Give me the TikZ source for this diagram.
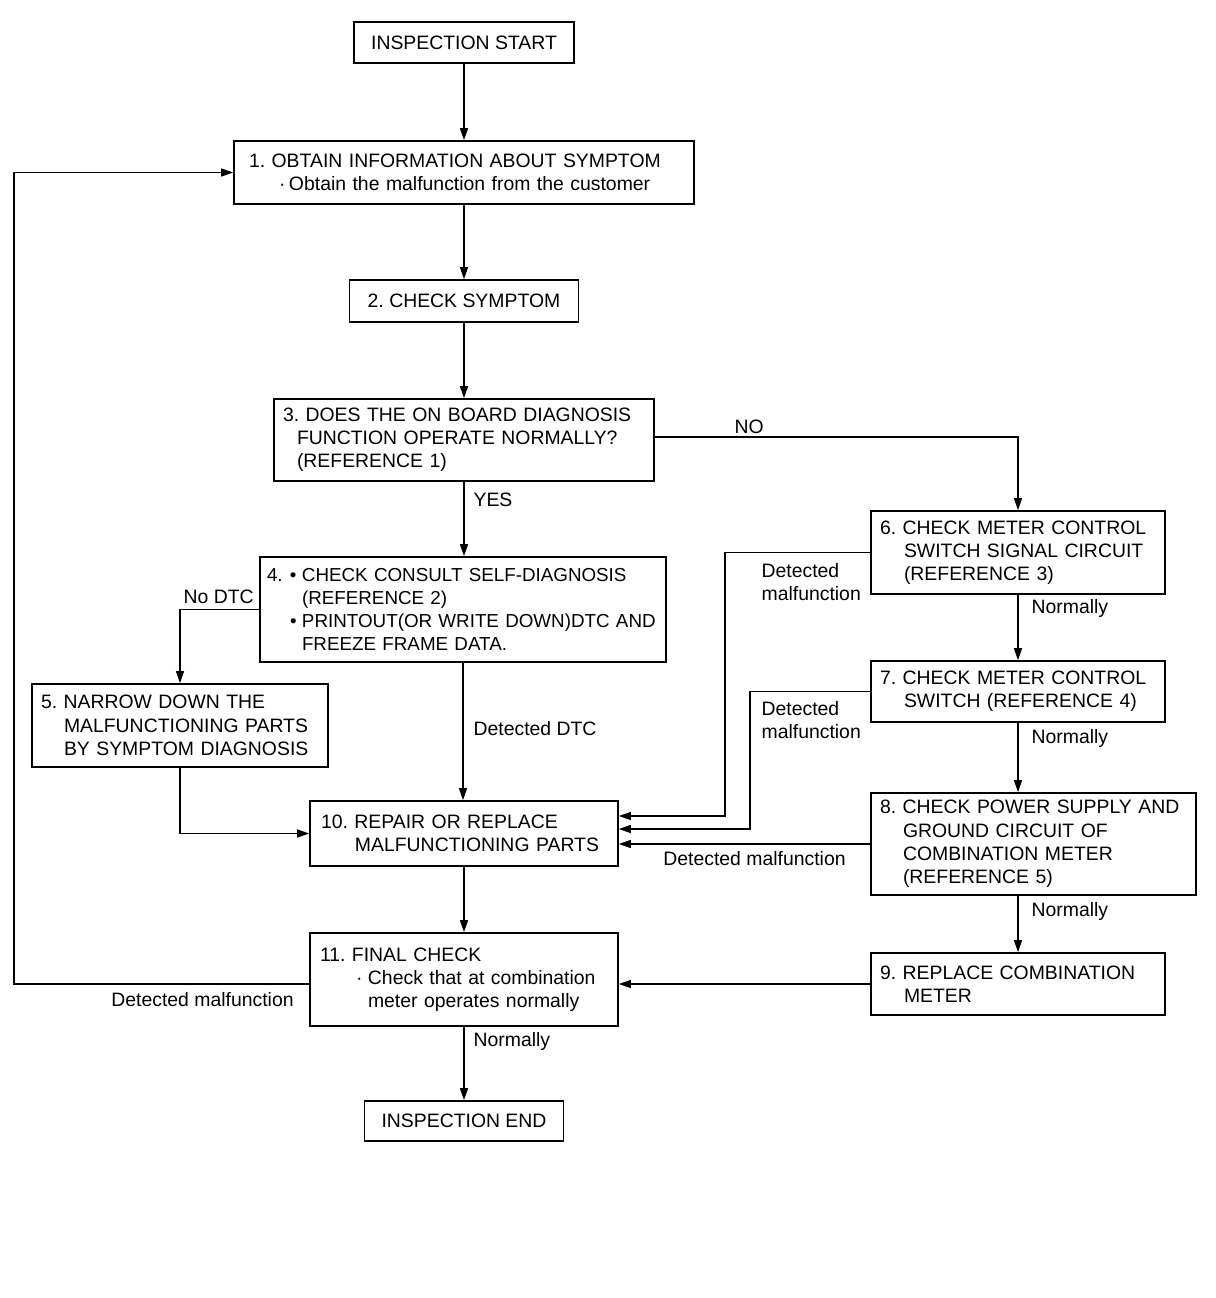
\documentclass[tikz,border=0pt]{standalone}
\usepackage{fontspec}
\setmainfont{Liberation Sans}
\usetikzlibrary{arrows.meta}
\frenchspacing

\tikzset{every picture/.style={line width=0.6pt}}
\tikzset{
  stepbox/.style={draw, line width=0.8pt, align=left, inner xsep=4.5pt, inner ysep=0pt},
  termbox/.style={draw, line width=0.8pt, align=center, inner sep=0pt},
  flow/.style={-{Triangle[length=6pt,width=4pt]}},
  lbl/.style={anchor=west, inner sep=0pt, text height=6.9pt, text depth=0pt},
  lbltwo/.style={anchor=north west, inner sep=0pt, align=left},
}

\begin{document}
\begin{tikzpicture}[x=0.5pt,y=0.5pt,yscale=-1,xscale=1,font=\fontsize{9.7}{11.6}\selectfont]
\useasboundingbox (0,0) rectangle (1216,1298);

%Shape: Rectangle
\node [termbox, minimum width=110pt, minimum height=20.5pt] (start) at (464,42.5) {INSPECTION START};
%Shape: Rectangle
\node [stepbox, inner xsep=7.5pt, text width=215pt, minimum height=31.5pt] (obtain) at (464,172.5) {1. OBTAIN INFORMATION ABOUT SYMPTOM\\\hspace*{15pt}\makebox[5pt][l]{·}Obtain the malfunction from the customer};
%Shape: Rectangle
\node [termbox, minimum width=114.5pt, minimum height=21pt] (symptom) at (464,301) {2. CHECK SYMPTOM};
%Shape: Rectangle
\node [stepbox, text width=181pt, minimum height=41pt] (obd) at (464,440) {3. DOES THE ON BOARD DIAGNOSIS\\\hspace*{7pt}FUNCTION OPERATE NORMALLY?\\\hspace*{7pt}(REFERENCE 1)};
%Shape: Rectangle
\node [stepbox, inner xsep=3.5pt, text width=196pt, minimum height=52.5pt, font=\fontsize{9.4}{11.6}\selectfont] (consult) at (463,609.5) {\makebox[11.5pt][l]{4.}\makebox[6pt][l]{\textbullet}CHECK CONSULT SELF-DIAGNOSIS\\\hspace*{17.5pt}(REFERENCE 2)\\\mbox{\hspace*{11.5pt}\makebox[6pt][l]{\textbullet}PRINTOUT(OR WRITE DOWN)DTC AND}\\\hspace*{17.5pt}FREEZE FRAME DATA.};
%Shape: Rectangle
\node [stepbox, text width=139pt, minimum height=41.5pt] (narrow) at (180,725.5) {5. NARROW DOWN THE\\\hspace*{11.5pt}MALFUNCTIONING PARTS\\\hspace*{11.5pt}BY SYMPTOM DIAGNOSIS};
%Shape: Rectangle
\node [stepbox, text width=138pt, minimum height=41.5pt] (signal) at (1018,552.5) {6. CHECK METER CONTROL\\\hspace*{12pt}SWITCH SIGNAL CIRCUIT\\\hspace*{12pt}(REFERENCE 3)};
%Shape: Rectangle
\node [stepbox, text width=138pt, minimum height=30.5pt] (switch) at (1018,691.5) {7. CHECK METER CONTROL\\\hspace*{12pt}SWITCH (REFERENCE 4)};
%Shape: Rectangle
\node [stepbox, text width=153.5pt, minimum height=51pt] (power) at (1033.5,844) {8. CHECK POWER SUPPLY AND\\\hspace*{11.5pt}GROUND CIRCUIT OF\\\hspace*{11.5pt}COMBINATION METER\\\hspace*{11.5pt}(REFERENCE 5)};
%Shape: Rectangle
\node [stepbox, text width=138pt, minimum height=31pt] (meter) at (1018,984) {9. REPLACE COMBINATION\\\hspace*{12pt}METER};
%Shape: Rectangle
\node [stepbox, inner xsep=5.5pt, text width=143pt, minimum height=32.5pt] (repair) at (464,833.5) {10. REPAIR OR REPLACE\\\hspace*{17pt}MALFUNCTIONING PARTS};
%Shape: Rectangle
\node [stepbox, inner xsep=5pt, text width=144pt, minimum height=46.5pt] (final) at (464,979.5) {11. FINAL CHECK\\\hspace*{18pt}\makebox[6pt][l]{·}Check that at combination\\\hspace*{24pt}meter operates normally};
%Shape: Rectangle
\node [termbox, minimum width=99.5pt, minimum height=20pt] (finish) at (464,1121) {INSPECTION END};

%Straight Lines
\draw [flow] (start) -- (obtain);
\draw [flow] (obtain) -- (symptom);
\draw [flow] (symptom) -- (obd);
\draw [flow] (obd.south) -- (obd.south |- consult.north);
\draw [flow] ([yshift=-1.5pt]obd.east) -| (signal.north);
\draw [flow] (consult.west) -| (narrow.north);
\draw [flow] (consult.south) -- (consult.south |- repair.north);
\draw [flow] (narrow.south) |- (repair.west);
%Elbow Lines
\coordinate (j6) at (725,816);
\coordinate (j7) at (750,829);
\draw [flow] (signal.west) -| (j6) -- (j6 -| repair.east);
\draw [flow] (switch.west) -| (j7) -- (j7 -| repair.east);
\draw [flow] (power.west) -- (power.west -| repair.east);
\draw [flow] (signal) -- (switch);
\draw [flow] (switch.south) -- (switch.south |- power.north);
\draw [flow] (meter.north |- power.south) -- (meter.north);
\draw [flow] (meter.west) -- (meter.west -| final.east);
\draw [flow] (repair) -- (final);
\draw [flow] (final) -- (finish);
%Loop back
\coordinate (back) at (14,984);
\draw [flow] (final.west |- back) -- (back) |- (obtain.west);

% Text Node
\node [lbl] (lyes) at (473,500) {YES};
% Text Node
\node [lbl] (lno) at (734,427) {NO};
% Text Node
\node [lbl] (lnodtc) at (183,597) {No DTC};
% Text Node
\node [lbl] (ldtc) at (473,729) {Detected DTC};
% Text Node
\node [lbltwo] (ldet6) at (761,563) {Detected\\malfunction};
% Text Node
\node [lbltwo] (ldet7) at (761,701) {Detected\\malfunction};
% Text Node
\node [lbl, anchor=center] (ldet8) at (754.5,859) {Detected malfunction};
% Text Node
\node [lbl] (lnorm6) at (1031,607) {Normally};
% Text Node
\node [lbl] (lnorm7) at (1031,737) {Normally};
% Text Node
\node [lbl] (lnorm8) at (1031,910) {Normally};
% Text Node
\node [lbl, anchor=center] (ldet11) at (202.5,1000) {Detected malfunction};
% Text Node
\node [lbl] (lnorm11) at (473,1040) {Normally};

\end{tikzpicture}
\end{document}
